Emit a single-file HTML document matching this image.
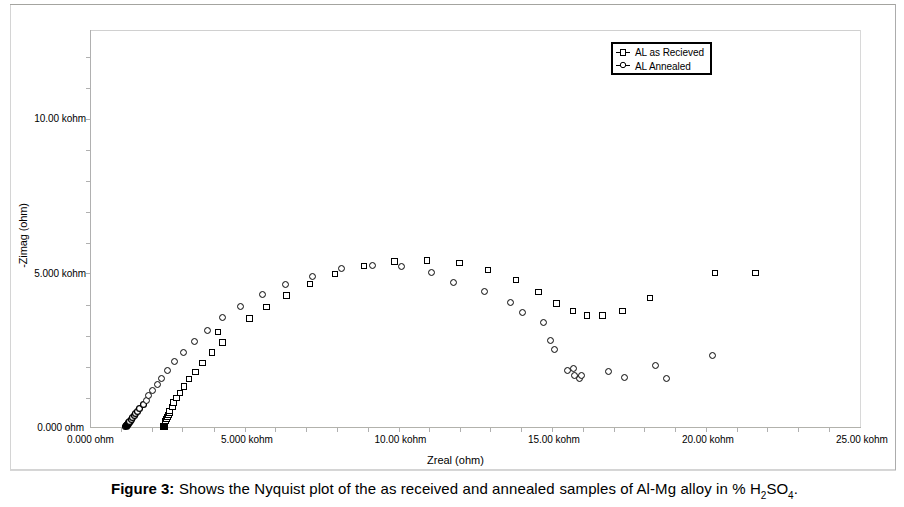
<!DOCTYPE html>
<html><head><meta charset="utf-8"><style>
html,body{margin:0;padding:0;background:#fff;}
body{width:904px;height:507px;position:relative;overflow:hidden;font-family:"Liberation Sans",sans-serif;color:#000;}
.t{position:absolute;white-space:nowrap;line-height:1;}
.l{letter-spacing:-0.05px;}
svg{position:absolute;left:0;top:0;}
</style></head><body>
<svg width="904" height="507" viewBox="0 0 904 507">
<rect x="10.5" y="4.5" width="885" height="465" fill="none" stroke="#d4d4d4" stroke-width="1"/>
<line x1="10" y1="4.5" x2="896" y2="4.5" stroke="#a4a4a0" stroke-width="1"/>
<line x1="10" y1="470.5" x2="896" y2="470.5" stroke="#d6d6d6" stroke-width="1"/>
<line x1="895.5" y1="4" x2="895.5" y2="470" stroke="#acacac" stroke-width="1"/>
<line x1="90" y1="30.5" x2="861" y2="30.5" stroke="#d0d0d0"/>
<line x1="860.5" y1="30" x2="860.5" y2="428" stroke="#d8d8d8"/>
<line x1="90.5" y1="30" x2="90.5" y2="428" stroke="#b0b0b0"/>
<line x1="90" y1="427.5" x2="861" y2="427.5" stroke="#b2b2ac"/>
<line x1="121.5" y1="428" x2="121.5" y2="432" stroke="#b0b0b0"/>
<line x1="152.5" y1="428" x2="152.5" y2="432" stroke="#b0b0b0"/>
<line x1="182.5" y1="428" x2="182.5" y2="432" stroke="#b0b0b0"/>
<line x1="214.5" y1="428" x2="214.5" y2="432" stroke="#b0b0b0"/>
<line x1="245.5" y1="428" x2="245.5" y2="432" stroke="#b0b0b0"/>
<line x1="275.5" y1="428" x2="275.5" y2="432" stroke="#b0b0b0"/>
<line x1="306.5" y1="428" x2="306.5" y2="432" stroke="#b0b0b0"/>
<line x1="337.5" y1="428" x2="337.5" y2="432" stroke="#b0b0b0"/>
<line x1="368.5" y1="428" x2="368.5" y2="432" stroke="#b0b0b0"/>
<line x1="399.5" y1="428" x2="399.5" y2="432" stroke="#b0b0b0"/>
<line x1="429.5" y1="428" x2="429.5" y2="432" stroke="#b0b0b0"/>
<line x1="460.5" y1="428" x2="460.5" y2="432" stroke="#b0b0b0"/>
<line x1="490.5" y1="428" x2="490.5" y2="432" stroke="#b0b0b0"/>
<line x1="521.5" y1="428" x2="521.5" y2="432" stroke="#b0b0b0"/>
<line x1="552.5" y1="428" x2="552.5" y2="432" stroke="#b0b0b0"/>
<line x1="583.5" y1="428" x2="583.5" y2="432" stroke="#b0b0b0"/>
<line x1="614.5" y1="428" x2="614.5" y2="432" stroke="#b0b0b0"/>
<line x1="644.5" y1="428" x2="644.5" y2="432" stroke="#b0b0b0"/>
<line x1="675.5" y1="428" x2="675.5" y2="432" stroke="#b0b0b0"/>
<line x1="706.5" y1="428" x2="706.5" y2="432" stroke="#b0b0b0"/>
<line x1="737.5" y1="428" x2="737.5" y2="432" stroke="#b0b0b0"/>
<line x1="767.5" y1="428" x2="767.5" y2="432" stroke="#b0b0b0"/>
<line x1="798.5" y1="428" x2="798.5" y2="432" stroke="#b0b0b0"/>
<line x1="829.5" y1="428" x2="829.5" y2="432" stroke="#b0b0b0"/>
<line x1="86" y1="398.5" x2="90" y2="398.5" stroke="#b0b0b0"/>
<line x1="86" y1="367.5" x2="90" y2="367.5" stroke="#b0b0b0"/>
<line x1="86" y1="336.5" x2="90" y2="336.5" stroke="#b0b0b0"/>
<line x1="86" y1="305.5" x2="90" y2="305.5" stroke="#b0b0b0"/>
<line x1="86" y1="273.5" x2="90" y2="273.5" stroke="#b0b0b0"/>
<line x1="86" y1="243.5" x2="90" y2="243.5" stroke="#b0b0b0"/>
<line x1="86" y1="212.5" x2="90" y2="212.5" stroke="#b0b0b0"/>
<line x1="86" y1="181.5" x2="90" y2="181.5" stroke="#b0b0b0"/>
<line x1="86" y1="150.5" x2="90" y2="150.5" stroke="#b0b0b0"/>
<line x1="86" y1="119.5" x2="90" y2="119.5" stroke="#b0b0b0"/>
<line x1="86" y1="88.5" x2="90" y2="88.5" stroke="#b0b0b0"/>
<line x1="86" y1="57.5" x2="90" y2="57.5" stroke="#b0b0b0"/>
<circle cx="125.5" cy="426.5" r="2.95" fill="#fff" stroke="#000" stroke-width="1.25"/>
<circle cx="126.5" cy="425.5" r="2.95" fill="#fff" stroke="#000" stroke-width="1.25"/>
<circle cx="126.5" cy="425.5" r="2.95" fill="#fff" stroke="#000" stroke-width="1.25"/>
<circle cx="127.5" cy="424.5" r="2.95" fill="#fff" stroke="#000" stroke-width="1.25"/>
<circle cx="127.5" cy="424.5" r="2.95" fill="#fff" stroke="#000" stroke-width="1.25"/>
<circle cx="128.5" cy="422.5" r="2.95" fill="#fff" stroke="#000" stroke-width="1.25"/>
<polygon points="122.5,426 125,429.5 129,429.5 134,422.5 131.5,419.5 126.5,421.5" fill="#000"/>
<circle cx="129.5" cy="421.5" r="2.95" fill="#fff" stroke="#000" stroke-width="1.25"/>
<circle cx="131.5" cy="419.5" r="2.95" fill="#fff" stroke="#000" stroke-width="1.25"/>
<circle cx="132.5" cy="417.5" r="2.95" fill="#fff" stroke="#000" stroke-width="1.25"/>
<circle cx="134.5" cy="415.5" r="2.95" fill="#fff" stroke="#000" stroke-width="1.25"/>
<circle cx="135.5" cy="413.5" r="2.95" fill="#fff" stroke="#000" stroke-width="1.25"/>
<circle cx="137.5" cy="411.5" r="2.95" fill="#fff" stroke="#000" stroke-width="1.25"/>
<circle cx="139.5" cy="408.5" r="2.95" fill="#fff" stroke="#000" stroke-width="1.25"/>
<circle cx="143.5" cy="404.5" r="2.95" fill="#fff" stroke="#000" stroke-width="1.25"/>
<circle cx="146.5" cy="400.5" r="2.95" fill="#fff" stroke="#000" stroke-width="1.0"/>
<circle cx="148.5" cy="395.5" r="2.95" fill="#fff" stroke="#000" stroke-width="1.0"/>
<circle cx="152.5" cy="390.5" r="2.95" fill="#fff" stroke="#000" stroke-width="1.0"/>
<circle cx="157.5" cy="384.5" r="2.95" fill="#fff" stroke="#000" stroke-width="1.0"/>
<circle cx="161.5" cy="378.5" r="2.95" fill="#fff" stroke="#000" stroke-width="1.0"/>
<circle cx="167.5" cy="370.5" r="2.95" fill="#fff" stroke="#000" stroke-width="1.0"/>
<circle cx="174.5" cy="361.5" r="2.95" fill="#fff" stroke="#000" stroke-width="1.0"/>
<circle cx="183.5" cy="352.5" r="2.95" fill="#fff" stroke="#000" stroke-width="1.0"/>
<circle cx="194.5" cy="341.5" r="2.95" fill="#fff" stroke="#000" stroke-width="1.0"/>
<circle cx="207.5" cy="330.5" r="2.95" fill="#fff" stroke="#000" stroke-width="1.0"/>
<circle cx="222.5" cy="317.5" r="2.95" fill="#fff" stroke="#000" stroke-width="1.0"/>
<circle cx="240.5" cy="306.5" r="2.95" fill="#fff" stroke="#000" stroke-width="1.0"/>
<circle cx="262.5" cy="294.5" r="2.95" fill="#fff" stroke="#000" stroke-width="1.0"/>
<circle cx="285.5" cy="284.5" r="2.95" fill="#fff" stroke="#000" stroke-width="1.0"/>
<circle cx="312.5" cy="276.5" r="2.95" fill="#fff" stroke="#000" stroke-width="1.0"/>
<circle cx="341.5" cy="268.5" r="2.95" fill="#fff" stroke="#000" stroke-width="1.0"/>
<circle cx="372.5" cy="265.5" r="2.95" fill="#fff" stroke="#000" stroke-width="1.0"/>
<circle cx="401.5" cy="266.5" r="2.95" fill="#fff" stroke="#000" stroke-width="1.0"/>
<circle cx="431.5" cy="272.5" r="2.95" fill="#fff" stroke="#000" stroke-width="1.0"/>
<circle cx="453.5" cy="282.5" r="2.95" fill="#fff" stroke="#000" stroke-width="1.0"/>
<circle cx="484.5" cy="291.5" r="2.95" fill="#fff" stroke="#000" stroke-width="1.0"/>
<circle cx="510.5" cy="302.5" r="2.95" fill="#fff" stroke="#000" stroke-width="1.0"/>
<circle cx="522.5" cy="312.5" r="2.95" fill="#fff" stroke="#000" stroke-width="1.0"/>
<circle cx="543.5" cy="322.5" r="2.95" fill="#fff" stroke="#000" stroke-width="1.0"/>
<circle cx="550.5" cy="340.5" r="2.95" fill="#fff" stroke="#000" stroke-width="1.0"/>
<circle cx="554.5" cy="349.5" r="2.95" fill="#fff" stroke="#000" stroke-width="1.0"/>
<circle cx="567.5" cy="370.5" r="2.95" fill="#fff" stroke="#000" stroke-width="1.0"/>
<circle cx="573.5" cy="368.5" r="2.95" fill="#fff" stroke="#000" stroke-width="1.0"/>
<circle cx="579.5" cy="378.5" r="2.95" fill="#fff" stroke="#000" stroke-width="1.0"/>
<circle cx="574.5" cy="375.5" r="2.95" fill="#fff" stroke="#000" stroke-width="1.0"/>
<circle cx="581.5" cy="375.5" r="2.95" fill="#fff" stroke="#000" stroke-width="1.0"/>
<circle cx="608.5" cy="371.5" r="2.95" fill="#fff" stroke="#000" stroke-width="1.0"/>
<circle cx="624.5" cy="377.5" r="2.95" fill="#fff" stroke="#000" stroke-width="1.0"/>
<circle cx="655.5" cy="365.5" r="2.95" fill="#fff" stroke="#000" stroke-width="1.0"/>
<circle cx="666.5" cy="378.5" r="2.95" fill="#fff" stroke="#000" stroke-width="1.0"/>
<circle cx="712.5" cy="355.5" r="2.95" fill="#fff" stroke="#000" stroke-width="1.0"/>
<rect x="160.5" y="423.5" width="6" height="5" fill="#fff" stroke="#000" stroke-width="1" shape-rendering="crispEdges"/>
<rect x="161.5" y="423.5" width="6" height="5" fill="#fff" stroke="#000" stroke-width="1" shape-rendering="crispEdges"/>
<rect x="160.5" y="424.5" width="6" height="5" fill="#fff" stroke="#000" stroke-width="1" shape-rendering="crispEdges"/>
<rect x="161.5" y="424.5" width="6" height="5" fill="#fff" stroke="#000" stroke-width="1" shape-rendering="crispEdges"/>
<rect x="160" y="423" width="8" height="7" fill="#000"/>
<rect x="162.5" y="418.5" width="6" height="5" fill="#fff" stroke="#000" stroke-width="1" shape-rendering="crispEdges"/>
<rect x="163.5" y="416.5" width="6" height="5" fill="#fff" stroke="#000" stroke-width="1" shape-rendering="crispEdges"/>
<rect x="164.5" y="414.5" width="6" height="5" fill="#fff" stroke="#000" stroke-width="1" shape-rendering="crispEdges"/>
<rect x="165.5" y="412.5" width="6" height="5" fill="#fff" stroke="#000" stroke-width="1" shape-rendering="crispEdges"/>
<rect x="166.5" y="410.5" width="6" height="5" fill="#fff" stroke="#000" stroke-width="1" shape-rendering="crispEdges"/>
<rect x="166.5" y="408.5" width="6" height="5" fill="#fff" stroke="#000" stroke-width="1" shape-rendering="crispEdges"/>
<rect x="169.5" y="404.5" width="6" height="5" fill="#fff" stroke="#000" stroke-width="1" shape-rendering="crispEdges"/>
<rect x="170.5" y="399.5" width="6" height="6" fill="#fff" stroke="#000" stroke-width="1" shape-rendering="crispEdges"/>
<rect x="173.5" y="395.5" width="6" height="5" fill="#fff" stroke="#000" stroke-width="1" shape-rendering="crispEdges"/>
<rect x="177.5" y="390.5" width="5" height="5" fill="#fff" stroke="#000" stroke-width="1" shape-rendering="crispEdges"/>
<rect x="181.5" y="383.5" width="5" height="6" fill="#fff" stroke="#000" stroke-width="1" shape-rendering="crispEdges"/>
<rect x="186.5" y="376.5" width="5" height="5" fill="#fff" stroke="#000" stroke-width="1" shape-rendering="crispEdges"/>
<rect x="192.5" y="369.5" width="6" height="5" fill="#fff" stroke="#000" stroke-width="1" shape-rendering="crispEdges"/>
<rect x="199.5" y="360.5" width="6" height="5" fill="#fff" stroke="#000" stroke-width="1" shape-rendering="crispEdges"/>
<rect x="209.5" y="349.5" width="5" height="6" fill="#fff" stroke="#000" stroke-width="1" shape-rendering="crispEdges"/>
<rect x="219.5" y="339.5" width="6" height="6" fill="#fff" stroke="#000" stroke-width="1" shape-rendering="crispEdges"/>
<rect x="215.5" y="329.5" width="5" height="5" fill="#fff" stroke="#000" stroke-width="1" shape-rendering="crispEdges"/>
<rect x="246.5" y="315.5" width="6" height="6" fill="#fff" stroke="#000" stroke-width="1" shape-rendering="crispEdges"/>
<rect x="263.5" y="304.5" width="6" height="5" fill="#fff" stroke="#000" stroke-width="1" shape-rendering="crispEdges"/>
<rect x="283.5" y="292.5" width="6" height="6" fill="#fff" stroke="#000" stroke-width="1" shape-rendering="crispEdges"/>
<rect x="307.5" y="281.5" width="5" height="5" fill="#fff" stroke="#000" stroke-width="1" shape-rendering="crispEdges"/>
<rect x="332.5" y="271.5" width="5" height="5" fill="#fff" stroke="#000" stroke-width="1" shape-rendering="crispEdges"/>
<rect x="361.5" y="263.5" width="5" height="5" fill="#fff" stroke="#000" stroke-width="1" shape-rendering="crispEdges"/>
<rect x="391.5" y="258.5" width="6" height="6" fill="#fff" stroke="#000" stroke-width="1" shape-rendering="crispEdges"/>
<rect x="424.5" y="257.5" width="5" height="6" fill="#fff" stroke="#000" stroke-width="1" shape-rendering="crispEdges"/>
<rect x="456.5" y="260.5" width="6" height="5" fill="#fff" stroke="#000" stroke-width="1" shape-rendering="crispEdges"/>
<rect x="485.5" y="267.5" width="5" height="5" fill="#fff" stroke="#000" stroke-width="1" shape-rendering="crispEdges"/>
<rect x="513.5" y="277.5" width="5" height="5" fill="#fff" stroke="#000" stroke-width="1" shape-rendering="crispEdges"/>
<rect x="535.5" y="289.5" width="6" height="5" fill="#fff" stroke="#000" stroke-width="1" shape-rendering="crispEdges"/>
<rect x="553.5" y="300.5" width="6" height="6" fill="#fff" stroke="#000" stroke-width="1" shape-rendering="crispEdges"/>
<rect x="570.5" y="308.5" width="5" height="5" fill="#fff" stroke="#000" stroke-width="1" shape-rendering="crispEdges"/>
<rect x="584.5" y="312.5" width="5" height="6" fill="#fff" stroke="#000" stroke-width="1" shape-rendering="crispEdges"/>
<rect x="599.5" y="312.5" width="6" height="6" fill="#fff" stroke="#000" stroke-width="1" shape-rendering="crispEdges"/>
<rect x="619.5" y="308.5" width="6" height="5" fill="#fff" stroke="#000" stroke-width="1" shape-rendering="crispEdges"/>
<rect x="647.5" y="295.5" width="5" height="5" fill="#fff" stroke="#000" stroke-width="1" shape-rendering="crispEdges"/>
<rect x="712.5" y="270.5" width="5" height="5" fill="#fff" stroke="#000" stroke-width="1" shape-rendering="crispEdges"/>
<rect x="752.5" y="270.5" width="6" height="5" fill="#fff" stroke="#000" stroke-width="1" shape-rendering="crispEdges"/>
</svg>
<div class="t l" style="font-size:10px;right:818px;top:114px;">10.00 kohm</div>
<div class="t l" style="font-size:10px;right:818px;top:269px;">5.000 kohm</div>
<div class="t l" style="font-size:10px;right:820px;top:423px;">0.000 ohm</div>
<div class="t l" style="font-size:10px;left:67px;top:435px;">0.000 ohm</div>
<div class="t l" style="font-size:10px;left:221px;top:435px;">5.000 kohm</div>
<div class="t l" style="font-size:10px;left:374.5px;top:435px;">10.00 kohm</div>
<div class="t l" style="font-size:10px;left:528px;top:435px;">15.00 kohm</div>
<div class="t l" style="font-size:10px;left:682px;top:435px;">20.00 kohm</div>
<div class="t l" style="font-size:10px;left:836px;top:435px;">25.00 kohm</div>
<div class="t" style="font-size:11px;left:427px;top:455px;">Zreal (ohm)</div>
<div class="t" style="font-size:11px;left:-11.5px;top:229.5px;letter-spacing:-0.12px;transform:rotate(-90deg);transform-origin:50% 50%;width:68px;text-align:center;">-Zimag (ohm)</div>
<div style="position:absolute;left:611px;top:42px;width:97px;height:29px;border:2px solid #000;background:#fff;"></div>
<div class="t l" style="font-size:10px;left:635px;top:48px;">AL as Recieved</div>
<div class="t l" style="font-size:10px;left:635px;top:62px;">AL Annealed</div>
<div class="t" style="font-size:15px;left:111px;top:481px;font-weight:bold;">Figure 3:</div>
<div class="t" style="font-size:15px;left:179px;top:481px;letter-spacing:0.1px;">Shows the Nyquist plot of the as received and annealed</div>
<div class="t" style="font-size:15px;left:559.5px;top:481px;letter-spacing:0.1px;">samples of Al-Mg alloy in %</div>
<div class="t" style="font-size:15px;left:750px;top:481px;">H<span style="font-size:10px;position:relative;top:5px;">2</span>SO<span style="font-size:10px;position:relative;top:5px;">4</span>.</div>
<svg width="904" height="507" style="pointer-events:none">
<line x1="616" y1="52.5" x2="630" y2="52.5" stroke="#000"/>
<rect x="620.5" y="49.5" width="5" height="6" fill="#fff" stroke="#000"/>
<line x1="616" y1="65.5" x2="630" y2="65.5" stroke="#000"/>
<circle cx="623" cy="65" r="2.7" fill="#fff" stroke="#000"/>
</svg>
</body></html>
